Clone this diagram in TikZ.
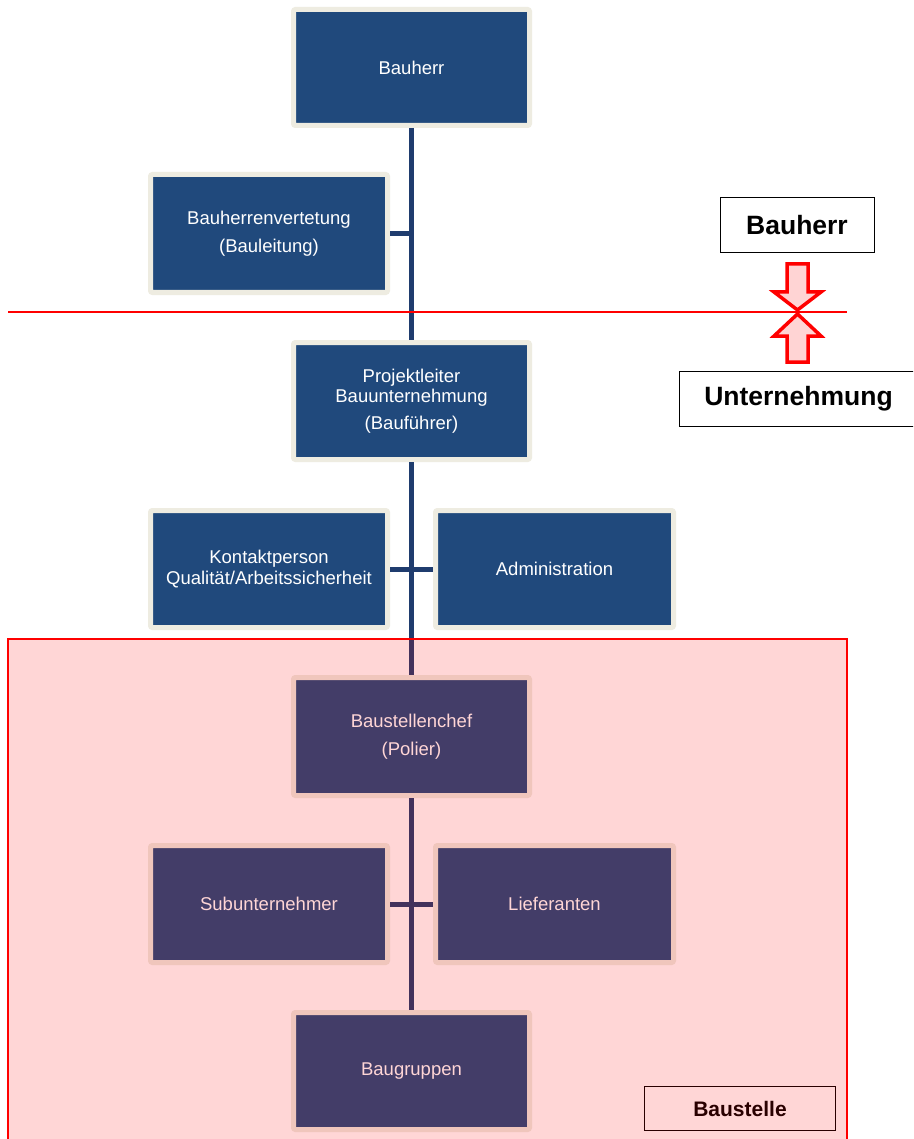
\documentclass[tikz,border=0pt]{standalone}
\usepackage{fontspec}
\setmainfont{Liberation Sans}
\definecolor{boxblue}{RGB}{32,73,124}
\definecolor{boxborder}{RGB}{238,236,225}
\definecolor{connblue}{RGB}{31,60,110}
\definecolor{arrowpink}{RGB}{255,212,212}
\begin{document}
\begin{tikzpicture}[x=1pt,y=-1pt,
  orgbox/.style={draw=boxborder, fill=boxblue, line width=5pt, rounded corners=2pt,
    minimum width=236pt, minimum height=117pt, inner sep=0pt, text=white,
    align=center, font=\fontsize{18.5}{20.5}\selectfont},
  sidebox/.style={orgbox, minimum width=237pt},
  conn/.style={draw=connblue, line width=5pt},
  lbl/.style={draw=black, fill=white, line width=1pt, inner sep=0pt,
    font=\bfseries\fontsize{26.5}{30}\selectfont, minimum height=55pt},
  redarrow/.style={draw=red, line width=3.5pt, fill=arrowpink, line join=miter}]
\clip (0,0) rectangle (913,1139);
\fill[white] (0,0) rectangle (913,1139);

% org boxes
\node[orgbox, minimum height=116pt] (bh) at (411.5,67.5) {Bauherr};
\node[sidebox, minimum height=118pt] (bv) at (269,233.5) {Bauherrenvertetung\\[7pt](Bauleitung)};
\node[orgbox] (pl) at (411.5,401) {Projektleiter\\Bauunternehmung\\[6pt](Bauführer)};
\node[sidebox] (kp) at (269,569) {Kontaktperson\\Qualität/Arbeitssicherheit};
\node[sidebox, minimum width=238pt] (adm) at (554.5,569) {Administration};
\node[orgbox, minimum height=118pt] (bc) at (411.5,736.5) {Baustellenchef\\[7pt](Polier)};
\node[sidebox] (su) at (269,904) {Subunternehmer};
\node[sidebox, minimum width=238pt] (li) at (554.5,904) {Lieferanten};
\node[orgbox] (bg) at (411.5,1071) {Baugruppen};

% connectors
\draw[conn] (bh.south) -- (pl.north);
\draw[conn] (bv.east) -- (bv.east -| bh.south);
\draw[conn] (pl.south) -- (bc.north);
\draw[conn] (kp.east) -- (adm.west);
\draw[conn] (bc.south) -- (bg.north);
\draw[conn] (su.east) -- (li.west);

% divider line
\coordinate (divL) at (8,312);
\coordinate (divR) at (847,312);
\draw[red, line width=1.3pt] (divL) -- (divR);

% side labels
\node[lbl, minimum width=154pt] (lbh) at (797,225) {Bauherr};
\node[lbl, minimum width=239pt] (lun) at (798.5,399) {Unternehmung};

% arrows
\draw[redarrow] (787,264) -- (808,264) -- (808,292) -- (821,292) -- (797.5,310)
  -- (774,292) -- (787,292) -- cycle;
\draw[redarrow] (787,362) -- (808,362) -- (808,336) -- (821,336) -- (797.5,314)
  -- (774,336) -- (787,336) -- cycle;

% Baustelle label
\node[draw=black, fill=white, line width=1pt, minimum width=191pt, minimum height=44pt,
  inner sep=0pt, font=\bfseries\fontsize{21}{25}\selectfont] (lbs) at (740,1108.5) {Baustelle};

% Baustelle overlay
\fill[red, fill opacity=0.16] (8,639) rectangle (847,1150);
\draw[red, line width=1.3pt] (8,1150) -- (8,639) -- (847,639) -- (847,1150);
\end{tikzpicture}
\end{document}
